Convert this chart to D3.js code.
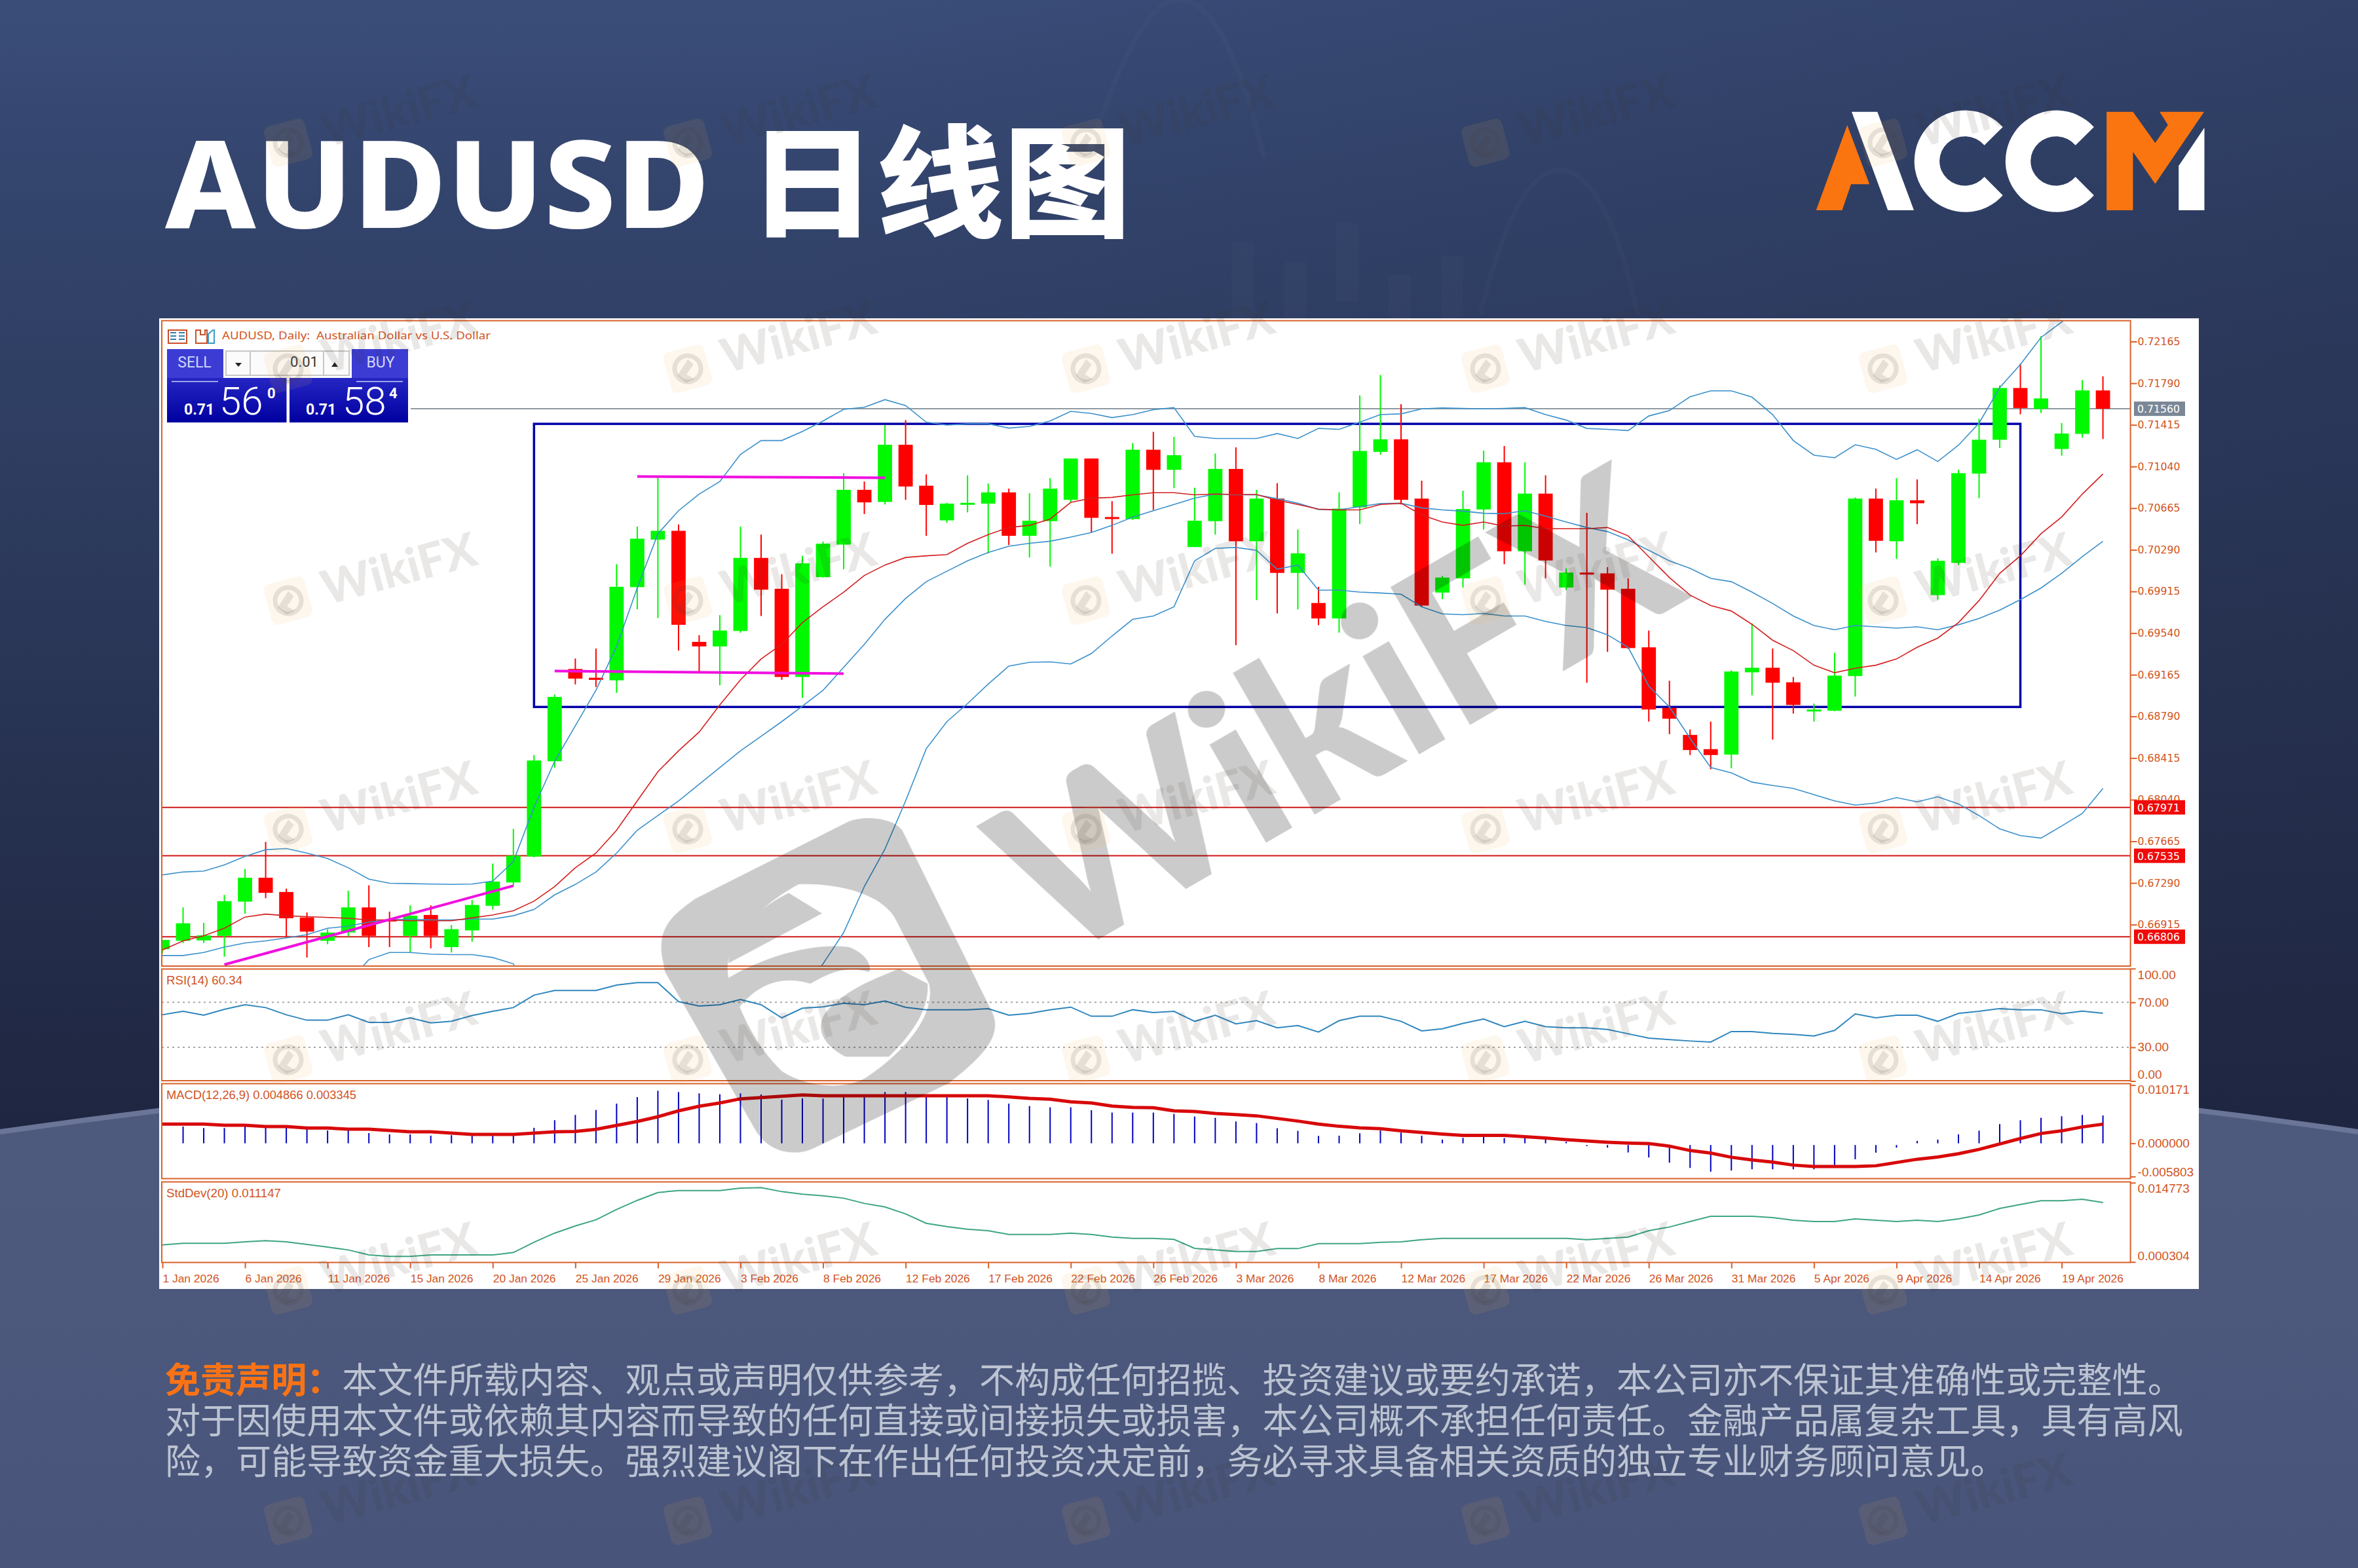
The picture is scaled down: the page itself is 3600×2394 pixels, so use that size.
<!DOCTYPE html>
<html><head><meta charset="utf-8">
<style>html,body{margin:0;padding:0;background:#1E2540}svg{display:block}text{white-space:pre}</style>
<script src="https://cdn.jsdelivr.net/npm/d3@7"></script>
</head><body><svg id="c" width="3600" height="2394" xmlns="http://www.w3.org/2000/svg"></svg>
<script>
// ---------- data (prices are price x 100000) ----------
const dateLabels=["1 Jan 2026","6 Jan 2026","11 Jan 2026","15 Jan 2026","20 Jan 2026","25 Jan 2026","29 Jan 2026","3 Feb 2026","8 Feb 2026","12 Feb 2026","17 Feb 2026","22 Feb 2026","26 Feb 2026","3 Mar 2026","8 Mar 2026","12 Mar 2026","17 Mar 2026","22 Mar 2026","26 Mar 2026","31 Mar 2026","5 Apr 2026","9 Apr 2026","14 Apr 2026","19 Apr 2026"];
const opens=[66694,66769,66773,66814,67122,67337,67209,66980,66769,66844,67070,66961,66814,67002,66713,66863,67085,67295,67528,68386,69217,69138,69115,69954,70382,70461,69461,69420,69559,70217,69939,69145,70044,70337,70830,70721,71236,70867,70555,70698,70706,70807,70416,70548,70740,71112,70585,70567,71191,71010,70315,70548,71018,70367,70751,70082,69811,69672,70672,71172,71285,70751,69905,70033,70653,71078,70277,70796,69950,70085,70078,69939,69412,68867,68623,68495,68446,69187,69228,69097,68841,68841,69153,70751,70367,70736,69882,70172,70976,71281,71747,71559,71198,71334,71725];
const highs=[66777,67070,66931,67183,67416,67660,67239,67025,66874,67220,67269,67032,67089,67089,66912,67137,67465,67777,68442,68987,69311,69401,70160,70499,70943,70518,69521,69702,70499,70427,70070,70236,70364,70980,70905,71413,71458,70969,70713,70961,70886,70841,70800,70935,71112,71112,70728,71251,71352,71307,70849,71157,71213,70830,70890,70473,69957,70807,71680,71864,71601,70912,70055,70822,71183,71225,71078,70961,70123,70623,70134,70033,69563,69111,68672,68743,69205,69627,69401,69145,68905,69363,70762,70841,70935,70924,70213,71010,71469,71770,71965,72213,71431,71819,71853];
const lows=[66656,66750,66750,66626,67013,67153,66807,66619,66739,66807,66713,66713,66664,66701,66664,66761,67051,67265,67521,68326,69078,69055,69002,69754,69675,69382,69190,69070,69544,69694,69119,68957,70040,70115,70612,70698,70740,70416,70533,70627,70258,70333,70221,70138,70717,70446,70255,70559,70649,70845,70315,70427,69431,69837,69717,69754,69612,69544,70521,71146,70698,69777,69845,69950,70473,70160,69976,70033,69927,69093,69371,69397,68743,68630,68442,68314,68322,68980,68581,68815,68743,68837,68969,70266,70209,70521,69841,70153,70755,71206,71510,71522,71138,71300,71288];
const closes=[66777,66927,66818,67126,67337,67201,66972,66852,66844,67070,66814,66950,66995,66814,66874,67092,67303,67536,68393,68965,69130,69119,69957,70390,70461,69615,69420,69563,70217,69931,69145,70168,70345,70830,70717,71236,70860,70694,70706,70713,70807,70416,70552,70841,71112,70578,70567,71191,71010,71142,70552,71018,70367,70751,70082,70258,69672,70661,71180,71285,70740,69788,70040,70657,71078,70277,70796,70194,70085,70070,69931,69405,68852,68769,68487,68442,69194,69228,69093,68893,68852,69157,70751,70371,70736,70709,70191,70980,71281,71747,71567,71653,71337,71725,71560];
const bbUpper=[67363,67389,67397,67453,67529,67589,67600,67559,67510,67427,67325,67288,67284,67280,67277,67280,67307,67483,67972,68386,68705,69025,69420,69946,70435,70642,70792,70905,71149,71274,71274,71356,71450,71555,71574,71642,71589,71439,71413,71424,71424,71386,71401,71450,71537,71518,71480,71507,71552,71570,71311,71292,71292,71292,71337,71292,71383,71375,71439,71507,71514,71559,71567,71563,71559,71563,71570,71507,71458,71383,71375,71364,71495,71544,71668,71721,71721,71665,71507,71274,71142,71119,71236,71195,71104,71191,71085,71232,71431,71751,71958,72202,72341,72503,72635];
const bbMiddle=[66637,66637,66664,66713,66750,66769,66795,66825,66882,66901,66938,66957,66965,66957,66957,66965,66965,66995,67051,67183,67277,67389,67559,67765,67897,68029,68179,68329,68480,68611,68743,68882,69025,69232,69439,69664,69852,70003,70097,70191,70266,70322,70349,70367,70405,70446,70510,70585,70642,70698,70755,70792,70785,70785,70751,70709,70653,70649,70679,70706,70709,70668,70649,70638,70619,70615,70642,70593,70540,70491,70454,70379,70285,70191,70123,70033,70003,69909,69807,69694,69608,69570,69608,69597,69585,69597,69570,69615,69672,69747,69841,69946,70078,70228,70367];
const bbLower=[65912,65885,65930,65972,65972,65949,65991,66092,66254,66393,66600,66664,66664,66649,66645,66645,66619,66562,66130,65979,65848,65754,65679,65566,65340,65415,65566,65754,65810,65949,66167,66318,66562,66844,67258,67596,68029,68499,68743,68905,69081,69243,69277,69281,69262,69356,69514,69664,69694,69777,70191,70303,70311,70285,70115,70153,69927,69927,69909,69901,69890,69777,69713,69706,69717,69694,69694,69645,69608,69589,69525,69412,69063,68875,68593,68330,68281,68198,68168,68141,68085,68029,67991,68010,68059,68021,68066,68002,67897,67777,67717,67694,67803,67916,68141];
const maRed=[66686,66769,66814,66882,66983,67010,66995,66987,66980,66972,66957,66957,66950,66950,66950,66976,67002,67040,67126,67258,67427,67559,67765,68029,68292,68480,68649,68893,69119,69307,69439,69634,69777,69909,70059,70153,70221,70236,70247,70349,70427,70491,70510,70567,70717,70755,70762,70785,70804,70804,70785,70792,70788,70788,70736,70698,70657,70649,70649,70698,70709,70604,70540,70510,70540,70503,70510,70480,70480,70480,70491,70416,70228,70040,69882,69788,69739,69619,69476,69382,69251,69183,69224,69251,69307,69412,69495,69634,69833,70078,70236,70435,70585,70792,70973];
const rsi=[58.9,62.0,58.5,63.8,67.9,65.3,58.9,54.1,54.1,58.9,52.1,52.1,56.2,51.7,53.1,58.2,62.0,65.3,76.4,80.5,80.5,80.5,85.3,87.5,87.5,70.6,66.7,67.9,72.5,67.9,56.2,64.8,65.9,69.2,67.9,71.2,65.5,63.4,63.4,63.4,64.4,58.5,60.1,63.4,65.7,57.6,57.6,63.4,60.9,62.0,53.1,58.5,50.8,53.7,47.3,49.4,43.6,53.7,57.6,57.6,53.1,44.6,46.5,51.2,55.2,48.3,53.1,48.3,47.3,47.3,45.9,42.0,38.2,36.8,35.6,34.7,44.0,44.0,42.4,41.5,40.1,45.0,59.7,56.2,58.5,58.5,53.1,60.1,62.0,64.4,63.4,63.4,59.9,62.2,60.34];
// MACD and StdDev are value x 1000000
const macdHist=[null,2934,2667,2667,3010,3010,2743,2553,2248,2248,1791,1562,1562,1334,1410,1676,1600,1524,2705,4039,4953,5829,6934,8077,9182,8954,8725,8573,8725,8534,7620,7849,7811,8077,8344,8954,8954,8268,8115,7849,7582,6934,6515,6287,6287,5791,5372,5372,5372,5144,4686,4458,3810,3543,2629,2172,1295,1334,1753,2248,1867,1334,648,953,1143,914,1105,724,267,-495,-762,-1600,-2477,-3391,-4305,-4953,-4763,-4534,-4534,-4534,-4534,-4001,-2781,-1638,-762,419,648,1562,2210,3353,4039,4458,4724,4953,4866];
const macdSignal=[3353,3353,3353,3162,3162,2934,2934,2667,2667,2477,2477,2248,2019,2019,1791,1562,1562,1562,1791,2019,2057,2438,3124,3810,4648,5677,6477,7049,7772,8001,8230,8458,8306,8306,8306,8306,8306,8306,8306,8306,8306,8115,7849,7696,7239,7049,6515,6287,6210,5677,5563,5220,5029,4801,4343,3886,3353,2972,2705,2553,2172,1905,1600,1372,1372,1372,1143,914,648,419,191,38,-38,-495,-1257,-1715,-2438,-2896,-3277,-3810,-4039,-4039,-4039,-3924,-3353,-2781,-2400,-1829,-1067,-114,838,1715,2172,2858,3345];
const stdDev=[3413,3692,3692,3692,3971,4170,3971,3493,3014,2496,1580,1301,1301,1580,1580,1580,1580,2018,3891,5566,6881,7997,9870,11545,12979,13338,13338,13338,13777,13856,13139,12661,12382,11943,10986,10349,9073,7359,6761,6283,6004,5326,5326,5326,5566,5326,4848,4609,4609,4410,2775,2496,2217,2217,2735,2735,3652,3652,3652,3891,3971,4370,4609,4609,4609,4609,4609,4609,4609,4370,4609,4848,6004,6682,7678,8635,8635,8635,8396,7917,7678,7678,8156,7917,7678,7917,7678,8156,8874,10070,10787,11465,11465,11744,11147];
const priceTicks=[72165,71790,71415,71040,70665,70290,69915,69540,69165,68790,68415,68040,67665,67290,66915];
const supportLevels=[67971,67535,66806];
const lastPrice=71560;
const rangeBox={x0:18,x1:90,top:71424,bottom:68875};
const trendLines=[[[3,66555],[17,67265]],[[23,70950],[35,70939]],[[19,69198],[33,69175]]];
const rsiLevels=[70,30];
const rsiTicks=[100,70,30,0];
const macdTicks=[10171,0,-5803];
const stdTicks=[14773,304];
const disclaimerLabel="免责声明\uFF1A";
const disclaimerLines=["本文件所载内容、观点或声明仅供参考\uFF0C不构成任何招揽、投资建议或要约承诺\uFF0C本公司亦不保证其准确性或完整性。","对于因使用本文件或依赖其内容而导致的任何直接或间接损失或损害\uFF0C本公司概不承担任何责任。金融产品属复杂工具\uFF0C具有高风","险\uFF0C可能导致资金重大损失。强烈建议阁下在作出任何投资决定前\uFF0C务必寻求具备相关资质的独立专业财务顾问意见。"];

// ---------- layout ----------
const FR={l:247,r:3252.6};
const P={main:[489.6,1475],rsi:[1479.5,1650],macd:[1654.5,1799.5],std:[1804.5,1927.5]};
const AX="#D9602A",TXT="#D2541E";
const svg=d3.select("#c");
const defs=svg.append("defs");
const lg=(id,stops,a)=>{const g=defs.append("linearGradient").attr("id",id).attr("gradientUnits","userSpaceOnUse");
  Object.entries(a).forEach(([k,v])=>g.attr(k,v));stops.forEach(([o,c])=>g.append("stop").attr("offset",o).attr("stop-color",c));};
lg("bg",[[0,"#3A4D79"],[.18,"#33446C"],[.52,"#2B3859"],[1,"#1E2540"]],{x1:0,y1:0,x2:0,y2:1750});
lg("bgR",[[0,"rgba(30,37,64,0)"],[1,"rgba(30,37,64,.3)"]],{x1:1200,y1:0,x2:3600,y2:0});
lg("floor",[[0,"#4F5B7D"],[1,"#48547A"]],{x1:0,y1:1600,x2:0,y2:2394});
lg("btn",[[0,"#3E3EDC"],[1,"#0000A0"]],{x1:0,y1:533,x2:0,y2:645});
defs.append("clipPath").attr("id","clipMain").append("rect").attr("x",FR.l).attr("y",P.main[0]).attr("width",FR.r-FR.l).attr("height",P.main[1]-P.main[0]);

// ---------- background ----------
svg.append("rect").attr("width",3600).attr("height",2394).attr("fill","url(#bg)");
svg.append("rect").attr("width",3600).attr("height",2394).attr("fill","url(#bgR)");
const deco=svg.append("g").attr("fill","none").attr("stroke","#fff").attr("stroke-opacity",.018).attr("stroke-width",8);
deco.append("path").attr("d","M1660,240 C1720,60 1760,0 1800,0 C1850,0 1890,80 1930,240");
deco.append("path").attr("d","M2260,480 C2300,320 2340,260 2380,260 C2430,260 2470,340 2500,480");
[1880,1960,2040,2120,2200].forEach((x,i)=>svg.append("rect").attr("x",x).attr("y",[370,400,340,420,390][i]).attr("width",34).attr("height",120).attr("fill","#fff").attr("opacity",.016));
svg.append("path").attr("d","M0,1728 Q1800,1470 3600,1728 L3600,2394 L0,2394 Z").attr("fill","url(#floor)");
svg.append("path").attr("d","M0,1728 Q1800,1470 3600,1728").attr("fill","none").attr("stroke","#6A7597").attr("stroke-width",8);

// ---------- title ----------
svg.append("text").attr("x",252).attr("y",348).attr("font-family","'Noto Sans','Noto Sans CJK SC'").attr("font-weight",800).attr("font-size",186).attr("fill","#fff").attr("textLength",832).attr("lengthAdjust","spacingAndGlyphs").text("AUDUSD");
svg.append("text").attr("x",1143).attr("y",347).attr("font-family","'Noto Sans CJK SC'").attr("font-weight",900).attr("font-size",184).attr("fill","#fff").attr("textLength",584).attr("lengthAdjust","spacingAndGlyphs").text("日线图");

// ---------- ACCM logo ----------
const lgo=svg.append("g").attr("transform","translate(2700,120) scale(0.4847,0.3333)");
lgo.append("polygon").attr("points","150,603 248,213 318,484 260,484 232,603").attr("fill","#FA7510");
lgo.append("polygon").attr("points","262,152 343,152 458,603 376,603").attr("fill","#fff");
[0,287].forEach(d=>lgo.append("path").attr("fill","#fff").attr("d",`M${738+d},222 A160,233 0 1 0 ${738+d},535 L${680+d},450 A80,113 0 1 1 ${680+d},305 Z`));
lgo.append("polygon").attr("points","1065,152 1148,152 1218,295 1258,212 1232,152 1372,152 1218,482 1148,335 1148,603 1065,603").attr("fill","#FA7510");
lgo.append("polygon").attr("points","1373,225 1373,603 1292,603 1292,400").attr("fill","#fff");

// ---------- panel ----------
svg.append("rect").attr("x",243).attr("y",486).attr("width",3114).attr("height",1482).attr("fill","#fff");

// ---------- scales ----------
const n=closes.length, idx=d3.range(n);
const x=d3.scaleLinear().domain([0,94]).range([248,3210.6]);
const y=d3.scaleLinear().domain([66915,72165]).range([1411.7,521.5]);
const yRsi=d3.scaleLinear().domain([0,100]).range([1650.5,1478.8]);
const yMacd=d3.scaleLinear().domain([-5803,10171]).range([1796.3,1656.7]);
const yStd=d3.scaleLinear().domain([304,14773]).range([1926.7,1805.7]);

// ---------- main chart ----------
const main=svg.append("g").attr("clip-path","url(#clipMain)");
supportLevels.forEach(v=>main.append("line").attr("x1",FR.l).attr("x2",FR.r).attr("y1",y(v)).attr("y2",y(v)).attr("stroke","#D01818").attr("stroke-width",2));
main.append("line").attr("x1",627).attr("x2",FR.r).attr("y1",y(lastPrice)).attr("y2",y(lastPrice)).attr("stroke","#8E9AA2").attr("stroke-width",2);
main.append("g").attr("fill","none").attr("stroke","#0000A8").attr("stroke-width",3.5).append("rect")
 .attr("x",x(rangeBox.x0)).attr("y",y(rangeBox.top)).attr("width",x(rangeBox.x1)-x(rangeBox.x0)).attr("height",y(rangeBox.bottom)-y(rangeBox.top));
const col=i=>closes[i]>=opens[i]?"#00F800":"#FF0000";
const cg=main.append("g");
cg.selectAll("line").data(idx).join("line").attr("x1",x).attr("x2",x).attr("y1",i=>y(highs[i])).attr("y2",i=>y(lows[i])).attr("stroke",col).attr("stroke-width",2);
cg.selectAll("rect").data(idx).join("rect").attr("x",i=>x(i)-10.9).attr("width",21.8)
 .attr("y",i=>y(Math.max(opens[i],closes[i])))
 .attr("height",i=>Math.max(3,Math.abs(y(opens[i])-y(closes[i])))).attr("fill",col);
const lineMain=d3.line().x((d,i)=>x(i)).y(d=>y(d));
[[bbUpper,"#3A90CC"],[bbMiddle,"#3A90CC"],[bbLower,"#3A90CC"],[maRed,"#D41E1E"]].forEach(([d,c])=>main.append("path").attr("d",lineMain(d)).attr("fill","none").attr("stroke",c).attr("stroke-width",1.6));
main.append("g").selectAll("path").data(trendLines).join("path").attr("fill","none").attr("stroke","#F010E0").attr("stroke-width",4)
 .attr("d",d3.line().x(d=>x(d[0])).y(d=>y(d[1])));

// ---------- RSI ----------
rsiLevels.forEach(v=>svg.append("line").attr("x1",FR.l).attr("x2",FR.r).attr("y1",yRsi(v)).attr("y2",yRsi(v)).attr("stroke","#A8A8A8").attr("stroke-width",2).attr("stroke-dasharray","3 5"));
svg.append("path").attr("d",d3.line().x((d,i)=>x(i)).y(d=>yRsi(d))(rsi)).attr("fill","none").attr("stroke","#2F86BE").attr("stroke-width",2);

// ---------- MACD ----------
svg.append("g").selectAll("line").data(idx.filter(i=>macdHist[i]!==null)).join("line").attr("x1",x).attr("x2",x)
 .attr("y1",i=>yMacd(0)+(macdHist[i]<0?2.6:0)).attr("y2",i=>yMacd(macdHist[i])).attr("stroke","#0000C0").attr("stroke-width",2);
svg.append("path").attr("d",d3.line().x((d,i)=>x(i)).y(d=>yMacd(d))(macdSignal)).attr("fill","none").attr("stroke","#D80A0A").attr("stroke-width",5);

// ---------- StdDev ----------
svg.append("path").attr("d",d3.line().x((d,i)=>x(i)).y(d=>yStd(d))(stdDev)).attr("fill","none").attr("stroke","#3DA582").attr("stroke-width",2);

// ---------- frames ----------
Object.values(P).forEach(([a,b])=>svg.append("rect").attr("x",FR.l).attr("y",a).attr("width",FR.r-FR.l).attr("height",b-a).attr("fill","none").attr("stroke",AX).attr("stroke-width",2));

// ---------- axes ----------
function styleAxis(g){g.select(".domain").remove();g.selectAll(".tick line").attr("stroke",AX).attr("stroke-width",2);}
const pAxis=svg.append("g").attr("transform",`translate(${FR.r},0)`).call(d3.axisRight(y).tickValues(priceTicks).tickSize(10).tickPadding(1).tickFormat(v=>(v/1e5).toFixed(5))).call(styleAxis);
pAxis.selectAll("text").attr("fill",TXT).attr("font-family","'DejaVu Sans'").attr("font-size",15.5).attr("textLength",65).attr("lengthAdjust","spacingAndGlyphs");
const lab=(g,fmt,offs)=>{g.selectAll("text").attr("fill",TXT).attr("font-family","'Liberation Sans'").attr("font-size",19).attr("textLength",null);
  g.selectAll(".tick").each(function(d,i){d3.select(this).select("text").attr("dy",(offs[i]||0)+6);});};
const rAxis=svg.append("g").attr("transform",`translate(${FR.r},0)`).call(d3.axisRight(yRsi).tickValues(rsiTicks).tickSize(8).tickPadding(3).tickFormat(d3.format(".2f"))).call(styleAxis);
lab(rAxis,null,[10,0,0,-10]);
const mAxis=svg.append("g").attr("transform",`translate(${FR.r},0)`).call(d3.axisRight(yMacd).tickValues(macdTicks).tickSize(8).tickPadding(3).tickFormat(v=>(v/1e6).toFixed(6))).call(styleAxis);
lab(mAxis,null,[7,0,-7]);
const sAxis=svg.append("g").attr("transform",`translate(${FR.r},0)`).call(d3.axisRight(yStd).tickValues(stdTicks).tickSize(8).tickPadding(3).tickFormat(v=>(v/1e6).toFixed(6))).call(styleAxis);
lab(sAxis,null,[9,-9]);
const xTickIdx=dateLabels.map((_,i)=>i*4);
const xAxis=svg.append("g").attr("transform",`translate(0,${P.std[1]})`).call(d3.axisBottom(x).tickValues(xTickIdx).tickSize(9).tickPadding(9).tickFormat((d,i)=>dateLabels[i])).call(styleAxis);
xAxis.selectAll("text").attr("text-anchor","start").attr("fill",TXT).attr("font-family","'Liberation Sans'").attr("font-size",17.4);

// price tags
function tag(v,fill){const g=svg.append("g");g.append("rect").attr("x",3258).attr("y",y(v)-11).attr("width",78).attr("height",22).attr("fill",fill);
  g.append("text").attr("x",3263).attr("y",y(v)+6).attr("font-family","'DejaVu Sans'").attr("font-size",15.5).attr("fill","#fff").attr("textLength",65).attr("lengthAdjust","spacingAndGlyphs").text((v/1e5).toFixed(5));}
tag(lastPrice,"#7A8796");supportLevels.forEach(v=>tag(v,"#F00A0A"));

// indicator captions
const cap=(s,yy,w)=>svg.append("text").attr("x",254).attr("y",yy).attr("font-family","'Liberation Sans'").attr("font-size",18).attr("fill",TXT).attr("textLength",w).attr("lengthAdjust","spacingAndGlyphs").text(s);
cap("RSI(14) "+rsi[n-1].toFixed(2),1503,116);
cap("MACD(12,26,9) "+(macdHist[n-1]/1e6).toFixed(6)+" "+(macdSignal[n-1]/1e6).toFixed(6),1678,290);
cap("StdDev(20) "+(stdDev[n-1]/1e6).toFixed(6),1828,175);

// ---------- chart header ----------
const ic=svg.append("g").attr("fill","none").attr("stroke-width",2);
ic.append("rect").attr("x",257).attr("y",504).attr("width",28).attr("height",20).attr("stroke","#C8502A");
[508,513,518].forEach(yy=>ic.append("path").attr("d",`M260,${yy}h9M273,${yy}h9`).attr("stroke","#2F7FA8"));
ic.append("path").attr("d","M299,524V504h7v7h7v-7h3v20Z").attr("stroke","#C8502A");
ic.append("path").attr("d","M318,524V510l7,-6h2v20Z").attr("stroke","#3A9AC8");
svg.append("text").attr("x",339).attr("y",518).attr("font-family","'Noto Sans'").attr("font-size",17).attr("fill",TXT).attr("textLength",410).attr("lengthAdjust","spacingAndGlyphs").text("AUDUSD, Daily:  Australian Dollar vs U.S. Dollar");

// one-click panel
const tr=svg.append("g");
tr.append("rect").attr("x",255).attr("y",533).attr("width",86).attr("height",44).attr("fill","#3C3CD4");
tr.append("rect").attr("x",537).attr("y",533).attr("width",86).attr("height",44).attr("fill","#3C3CD4");
tr.append("rect").attr("x",255).attr("y",577).attr("width",182.5).attr("height",68).attr("fill","url(#btn)");
tr.append("rect").attr("x",442).attr("y",577).attr("width",181).attr("height",68).attr("fill","url(#btn)");
tr.append("rect").attr("x",345).attr("y",536).attr("width",188).attr("height",37).attr("fill","#FBFBFB").attr("stroke","#C6C6C6").attr("stroke-width",2);
tr.append("path").attr("d","M382,536v37M494,536v37").attr("stroke","#C6C6C6").attr("stroke-width",2);
tr.append("path").attr("d","M359,554h10l-5,6ZM506,560h10l-5,-7Z").attr("fill","#222");
tr.append("path").attr("d","M262,582.5h71M544,582.5h71").attr("stroke","#C8D2F4").attr("stroke-width",1.5);
const tt=(s,xx,yy,fs,a,fw,c)=>tr.append("text").attr("x",xx).attr("y",yy).attr("font-family","Roboto").attr("font-size",fs).attr("text-anchor",a||"start").attr("font-weight",fw||400).attr("fill",c||"#fff").text(s);
tt("SELL",297,561,23,"middle",400,"#D0D8F8");tt("BUY",581,561,23,"middle",400,"#D0D8F8");
tt("0.01",486,560,22,"end",400,"#333");
tt("0.71",281,633,23,"start",700);tt("56",335,633,60,"start",300);tt("0",408,608,22,"start",700);
tt("0.71",467,633,23,"start",700);tt("58",523,633,60,"start",300);tt("4",594,608,22,"start",700);

// ---------- big watermark ----------
const bigFill="#CBCBCB";
const bigW=svg.append("g").style("mix-blend-mode","multiply");
bigW.append("text").attr("transform","translate(1610,1473) rotate(-30)").attr("font-family","Lato").attr("font-weight",900).attr("font-size",335).attr("fill",bigFill).text("WikiFX");
const bl=bigW.append("g").attr("transform","translate(1000,1100) scale(1.0204,0.4464)").attr("fill",bigFill);
bl.append("path").attr("fill-rule","evenodd").attr("d",
 "M10,800 C5,700 30,660 60,610 L290,345 C320,320 365,340 372,385 L505,1000 C520,1080 490,1150 440,1240 L240,1460 C210,1495 170,1480 150,1400 L15,860 Z "+
 "M215,560 C290,555 345,610 360,680 L410,900 C420,1000 380,1120 320,1215 C290,1265 230,1260 190,1200 C150,1110 130,1010 110,880 C100,770 150,640 215,560 Z");
bl.append("path").attr("d","M200,590 L250,660 L110,830 L112,770 C125,700 165,630 200,590 Z");
bl.append("path").attr("d","M110,880 C170,800 240,760 290,775 C320,800 325,850 320,860 C280,830 250,880 232,900 C190,870 150,900 120,1000 Z");
bl.append("path").attr("d","M255,1000 C280,930 320,890 365,850 L408,900 C410,980 390,1060 350,1150 L285,1150 C250,1110 240,1050 255,1000 Z");

// ---------- small watermark tiles ----------
const cols=[440,1050,1658,2268,2875], rows=[218,563,917,1266,1618,1970,2322];
const wm=svg.append("g");
rows.forEach(ry=>cols.forEach(cx=>{
  const g=wm.append("g").attr("transform",`translate(${cx},${ry}) rotate(-15)`);
  g.append("rect").attr("x",-32).attr("y",-32).attr("width",64).attr("height",64).attr("rx",10).attr("fill","rgba(238,180,80,.1)");
  g.append("circle").attr("r",20).attr("fill","none").attr("stroke","rgba(70,60,60,.13)").attr("stroke-width",7);
  g.append("path").attr("d","M-18,6 L4,-14 L10,-4 L-4,8 L6,18 L-8,20 Z").attr("fill","rgba(70,60,60,.13)");
  g.append("text").attr("x",55).attr("y",22).attr("font-family","Lato").attr("font-weight",900).attr("font-size",72).attr("fill","rgba(60,50,48,.115)").text("WikiFX");
}));

// ---------- disclaimer ----------
const dl=svg.append("g").attr("font-family","'Noto Sans CJK SC'").attr("font-size",54.05).attr("fill","#BCC3D2");
const t0=dl.append("text").attr("x",252).attr("y",2127);
t0.append("tspan").attr("fill","#F97316").attr("font-weight",700).text(disclaimerLabel);
t0.append("tspan").text(disclaimerLines[0]);
dl.append("text").attr("x",252).attr("y",2189).text(disclaimerLines[1]);
dl.append("text").attr("x",252).attr("y",2251).text(disclaimerLines[2]);
</script></body></html>
